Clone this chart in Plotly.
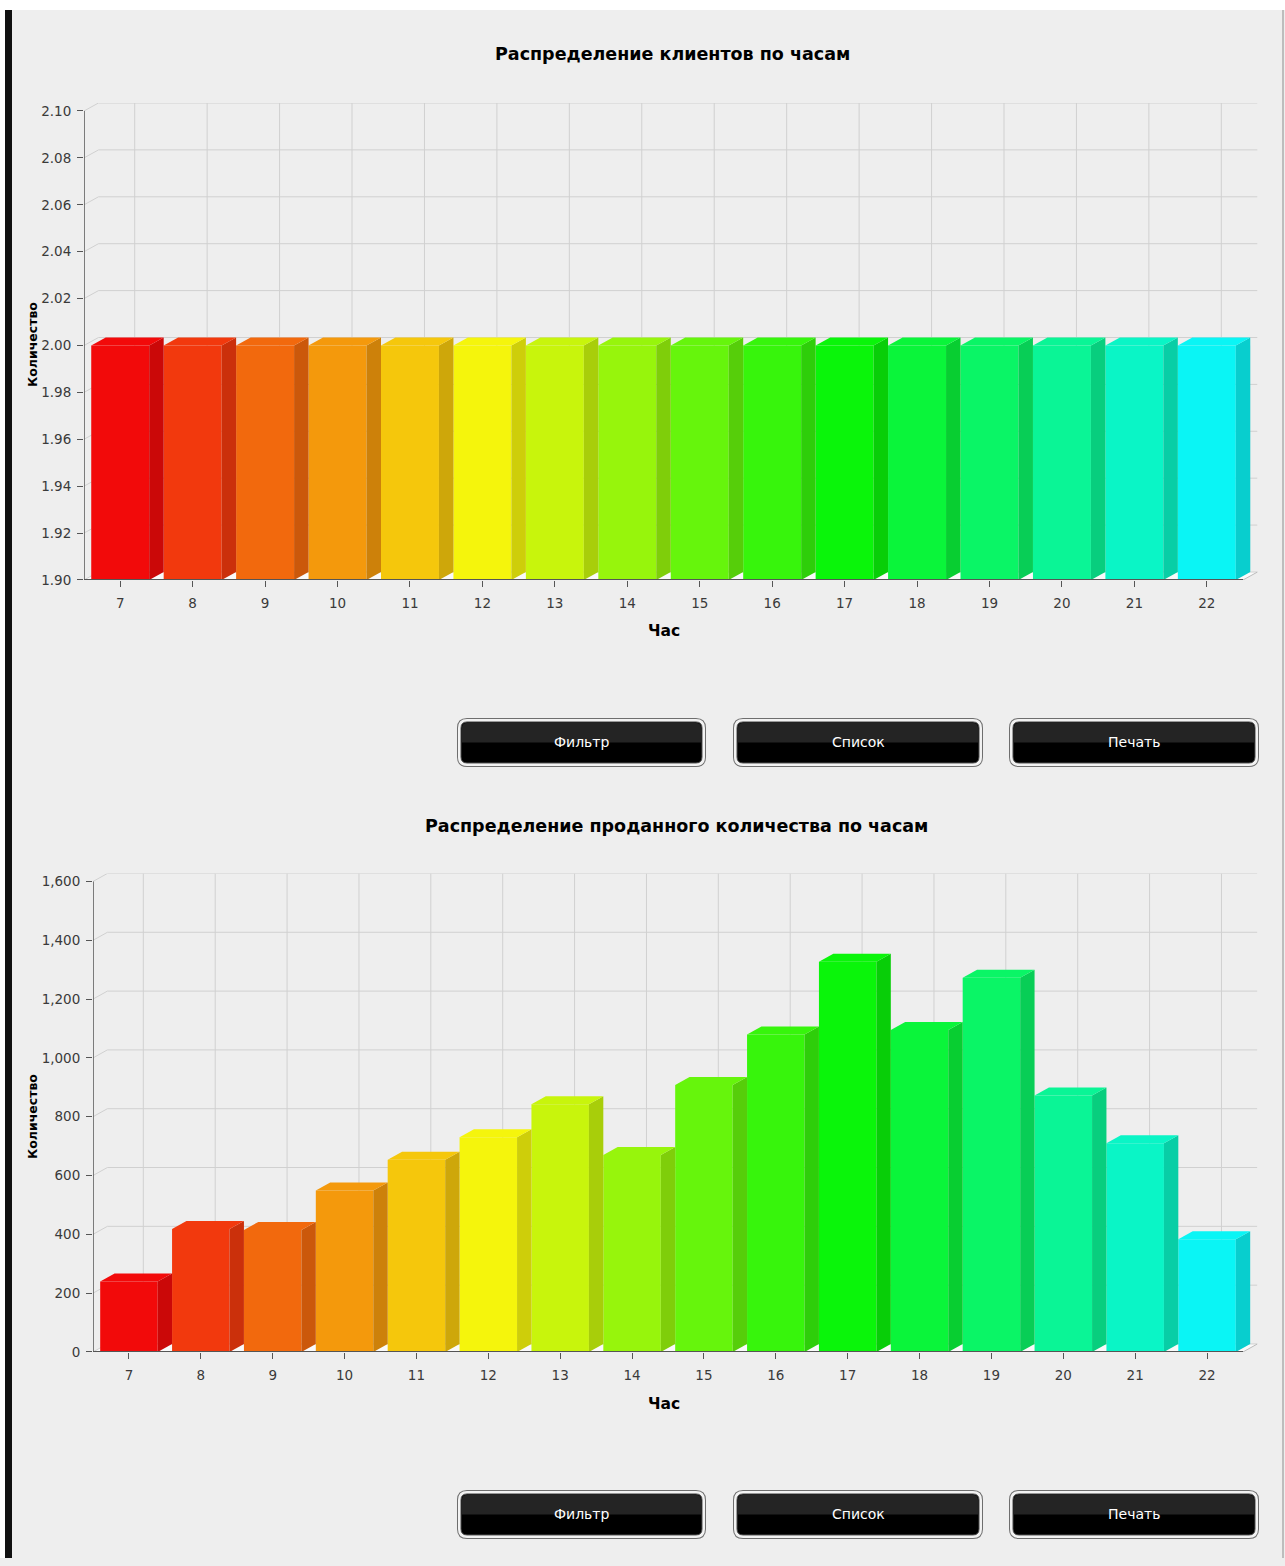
import plotly.graph_objects as go

W, H = 1285, 1566
VS = 1574 / 1566  # vertical compensation for the photographed page

# ---------------- data ----------------
hours = [7, 8, 9, 10, 11, 12, 13, 14, 15, 16, 17, 18, 19, 20, 21, 22]
clients = [2, 2, 2, 2, 2, 2, 2, 2, 2, 2, 2, 2, 2, 2, 2, 2]
quantity = [240, 418, 415, 549, 654, 730, 842, 670, 908, 1080, 1327, 1095, 1273, 872, 710, 383]
bar_colors = ["#F20A0A", "#F2390D", "#F2690D", "#F4990C", "#F5C70C", "#F5F50C",
              "#C8F50C", "#97F50C", "#66F50C", "#37F50C", "#0AF50A", "#0AF53A",
              "#0AF566", "#0AF596", "#0AF5C6", "#0AF5F5"]
y_ticks_top = [1.90, 1.92, 1.94, 1.96, 1.98, 2.00, 2.02, 2.04, 2.06, 2.08, 2.10]
y_ticks_bottom = [0, 200, 400, 600, 800, 1000, 1200, 1400, 1600]
title_top = "Распределение клиентов по часам"
title_bottom = "Распределение проданного количества по часам"
x_title = "Час"
y_title = "Количество"
button_labels = ["Фильтр", "Список", "Печать"]

FONT = "DejaVu Sans"
BG = "#EEEEEE"


def shade(hexc, f):
    h = hexc.lstrip("#")
    r, g, b = (int(h[i:i + 2], 16) for i in (0, 2, 4))
    r, g, b = (max(0, min(255, int(round(c * f)))) for c in (r, g, b))
    return "#%02X%02X%02X" % (r, g, b)


def px(x):
    return x / W


def py(y):
    return max(0.0, 1 - y * VS / H)


fig = go.Figure()
shapes = []
annotations = []

charts = [
    dict(vals=clients, xa="x", ya="y", xkey="xaxis", ykey="yaxis",
         left=84, ppux=72.44, bot=580, top=111, ymin=1.90, ymax=2.10,
         yticks=y_ticks_top, fmt=".2f", title=title_top, title_y=54, title_x=672,
         xtitle_y=631, ytitle_y=345),
    dict(vals=quantity, xa="x2", ya="y2", xkey="xaxis2", ykey="yaxis2",
         left=93, ppux=71.875, bot=1352, top=881.5, ymin=0, ymax=1600,
         yticks=y_ticks_bottom, fmt=",d", title=title_bottom, title_y=826, title_x=676,
         xtitle_y=1404, ytitle_y=1117),
]

DEPTH_PX = 8
BW = 0.8
for c in charts:
    ppuy = (c["bot"] - c["top"]) / (c["ymax"] - c["ymin"])
    dy = DEPTH_PX / ppuy
    dx = 0.2
    x_lo, x_hi_f = hours[0] - 0.5, hours[-1] + 0.5
    x_hi = x_hi_f + dx
    right_px = c["left"] + (x_hi - x_lo) * c["ppux"]
    ymin, ymax = c["ymin"], c["ymax"]
    xa, ya = c["xa"], c["ya"]

    # floor
    shapes.append(dict(type="path", xref=xa, yref=ya, layer="below",
                       path=f"M {x_lo},{ymin} L {x_hi_f},{ymin} L {x_hi},{ymin + dy} L {x_lo + dx},{ymin + dy} Z",
                       fillcolor="#FAFAFA", line=dict(width=0)))
    # back-wall gridlines
    for v in c["yticks"]:
        shapes.append(dict(type="line", xref=xa, yref=ya, layer="below",
                           x0=x_lo, y0=v, x1=x_lo + dx, y1=v + dy,
                           line=dict(color="#D0D0D0", width=1)))
        shapes.append(dict(type="line", xref=xa, yref=ya, layer="below",
                           x0=x_lo + dx, y0=v + dy, x1=x_hi, y1=v + dy,
                           line=dict(color="#D0D0D0", width=1)))
    for h in hours:
        shapes.append(dict(type="line", xref=xa, yref=ya, layer="below",
                           x0=h + dx, y0=ymin + dy, x1=h + dx, y1=ymax + dy,
                           line=dict(color="#D0D0D0", width=1)))
    # axis lines
    shapes.append(dict(type="line", xref=xa, yref=ya, layer="above",
                       x0=x_lo, y0=ymin, x1=x_lo, y1=ymax,
                       line=dict(color="#555555", width=1.5)))
    shapes.append(dict(type="line", xref=xa, yref=ya, layer="above",
                       x0=x_lo, y0=ymin, x1=x_hi_f, y1=ymin,
                       line=dict(color="#555555", width=2)))
    shapes.append(dict(type="line", xref=xa, yref=ya, layer="above",
                       x0=x_hi_f, y0=ymin, x1=x_hi, y1=ymin + dy,
                       line=dict(color="#BBBBBB", width=1)))

    # front faces
    fig.add_trace(go.Bar(x=hours, y=c["vals"], width=BW, xaxis=xa, yaxis=ya,
                         marker=dict(color=bar_colors, line=dict(width=0)),
                         hoverinfo="x+y", showlegend=False))
    # side and top faces
    for h, v, col in zip(hours, c["vals"], bar_colors):
        x0, x1 = h - BW / 2, h + BW / 2
        fig.add_trace(go.Scatter(
            x=[x1, x1, x1 + dx, x1 + dx, x1], y=[ymin, v, v + dy, ymin + dy, ymin],
            xaxis=xa, yaxis=ya, mode="lines", fill="toself", fillcolor=shade(col, 0.84),
            line=dict(width=0, color=shade(col, 0.84)), hoverinfo="skip", showlegend=False))
        fig.add_trace(go.Scatter(
            x=[x0, x1, x1 + dx, x0 + dx, x0], y=[v, v, v + dy, v + dy, v],
            xaxis=xa, yaxis=ya, mode="lines", fill="toself", fillcolor=shade(col, 1.0),
            line=dict(width=0, color=col), hoverinfo="skip", showlegend=False))

    fig.update_layout(**{
        c["xkey"]: dict(domain=[px(c["left"]), px(right_px)], range=[x_lo, x_hi],
                        anchor=ya, tickvals=hours, ticks="outside", ticklen=6,
                        tickcolor="#555555", showgrid=False, zeroline=False, showline=False,
                        tickfont=dict(family=FONT, size=13.5, color="#3A3A3A"),
                        ticklabelstandoff=5, fixedrange=True),
        c["ykey"]: dict(domain=[py(c["bot"]), py(c["top"] - DEPTH_PX)],
                        range=[ymin, ymax + dy], anchor=xa, tickvals=c["yticks"],
                        tickformat=c["fmt"], ticks="outside", ticklen=6,
                        tickcolor="#555555", showgrid=False, zeroline=False, showline=False,
                        tickfont=dict(family=FONT, size=13.5, color="#3A3A3A"),
                        ticklabelstandoff=3, fixedrange=True),
    })

    annotations.append(dict(xref="paper", yref="paper", x=px(c["title_x"]), y=py(c["title_y"]),
                            text=c["title"], showarrow=False, xanchor="center", yanchor="middle",
                            font=dict(family=FONT, size=17.5, color="#000000", weight="bold")))
    annotations.append(dict(xref="paper", yref="paper", x=px(664), y=py(c["xtitle_y"]),
                            text=x_title, showarrow=False, xanchor="center", yanchor="middle",
                            font=dict(family=FONT, size=15.5, color="#000000", weight="bold")))
    annotations.append(dict(xref="paper", yref="paper", x=px(33), y=py(c["ytitle_y"]),
                            text=y_title, showarrow=False, xanchor="center", yanchor="middle",
                            textangle=-90,
                            font=dict(family=FONT, size=12.5, color="#000000", weight="bold")))


# ---------------- buttons ----------------
def rrect(x0, y0, x1, y1, r, top_only=False):
    def P(x, y):
        return f"{px(x):.6f},{py(y):.6f}"
    rb = 0 if top_only else r
    return (f"M {P(x0 + r, y0)} L {P(x1 - r, y0)} Q {P(x1, y0)} {P(x1, y0 + r)} "
            f"L {P(x1, y1 - rb)} Q {P(x1, y1)} {P(x1 - rb, y1)} "
            f"L {P(x0 + rb, y1)} Q {P(x0, y1)} {P(x0, y1 - rb)} "
            f"L {P(x0, y0 + r)} Q {P(x0, y0)} {P(x0 + r, y0)} Z")


button_x = [(457, 706), (733, 983), (1009, 1259)]
button_rows = [(718, 767), (1490, 1539)]
for (by0, by1) in button_rows:
    for (bx0, bx1), lab in zip(button_x, button_labels):
        shapes.append(dict(type="path", xref="paper", yref="paper", layer="above",
                           path=rrect(bx0, by0, bx1, by1, 10),
                           fillcolor="#6E6E6E", line=dict(width=0)))
        shapes.append(dict(type="path", xref="paper", yref="paper", layer="above",
                           path=rrect(bx0 + 1, by0 + 1, bx1 - 1, by1 - 1, 9),
                           fillcolor="#F2F2F2", line=dict(width=0)))
        shapes.append(dict(type="path", xref="paper", yref="paper", layer="above",
                           path=rrect(bx0 + 4, by0 + 4, bx1 - 4, by1 - 4, 6),
                           fillcolor="#000000", line=dict(color="#4A4A4A", width=1)))
        mid = (by0 + by1) / 2
        shapes.append(dict(type="path", xref="paper", yref="paper", layer="above",
                           path=rrect(bx0 + 5, by0 + 5, bx1 - 5, mid, 5, top_only=True),
                           fillcolor="#242424", line=dict(width=0)))
        annotations.append(dict(xref="paper", yref="paper", x=px((bx0 + bx1) / 2), y=py(mid),
                                text=lab, showarrow=False, xanchor="center", yanchor="middle",
                                font=dict(family=FONT, size=14, color="#FFFFFF")))

# page frame: white top strip, black left bar, grey right edge
shapes.append(dict(type="rect", xref="paper", yref="paper", layer="above",
                   x0=0, x1=1, y0=py(10), y1=1, fillcolor="#FFFFFF", line=dict(width=0)))
shapes.append(dict(type="rect", xref="paper", yref="paper", layer="above",
                   x0=0, x1=px(5), y0=0, y1=py(10), fillcolor="#FFFFFF", line=dict(width=0)))
shapes.append(dict(type="rect", xref="paper", yref="paper", layer="above",
                   x0=px(5), x1=px(12), y0=0, y1=py(10), fillcolor="#111111", line=dict(width=0)))
shapes.append(dict(type="rect", xref="paper", yref="paper", layer="above",
                   x0=px(1282), x1=px(1284), y0=0, y1=py(10), fillcolor="#BDBDBD", line=dict(width=0)))

fig.update_layout(
    width=W, height=H, margin=dict(l=0, r=0, t=0, b=0),
    paper_bgcolor=BG, plot_bgcolor="rgba(0,0,0,0)",
    barmode="overlay", showlegend=False,
    shapes=shapes, annotations=annotations,
    font=dict(family=FONT),
)

fig.write_html(
    "out.html",
    config={"displayModeBar": False},
    post_script=(
        "var de=document.documentElement, b=document.body;"
        "de.style.margin='0';de.style.padding='0';de.style.overflow='hidden';"
        "de.style.background='#EEEEEE';b.style.background='#EEEEEE';"
        "b.style.margin='0';b.style.padding='0';b.style.overflow='hidden';"
    ),
)
